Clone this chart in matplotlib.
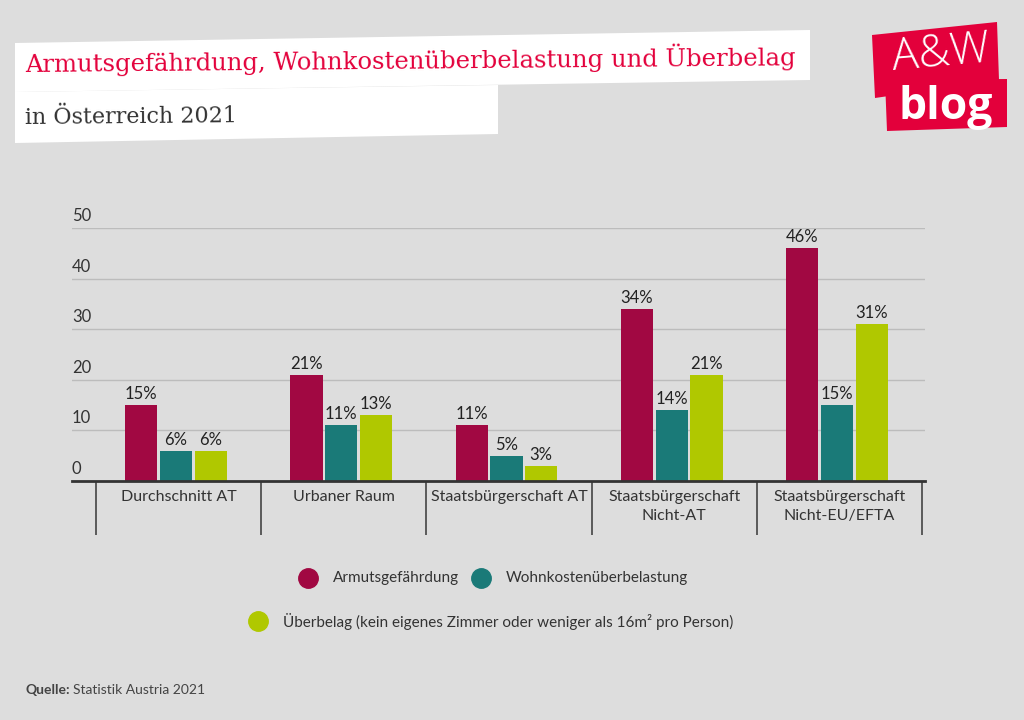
import matplotlib.pyplot as plt
import matplotlib.patches as mpatches
from matplotlib.lines import Line2D
import numpy as np

# ============================================
# DATEN
# ============================================

kategorien = ['Durchschnitt AT', 'Urbaner Raum', 'Staatsbürgerschaft AT',
              'Staatsbürgerschaft\nNicht-AT', 'Staatsbürgerschaft\nNicht-EU/EFTA']
armut = [15, 21, 11, 34, 46]
wohnkosten = [6, 11, 5, 14, 15]
ueberbelag = [6, 13, 3, 21, 31]

serien_namen = ['Armutsgefährdung', 'Wohnkostenüberbelastung',
                'Überbelag (kein eigenes Zimmer oder weniger als 16m² pro Person)']
y_ticks = [0, 10, 20, 30, 40, 50]

# Farben
ROT = '#a10842'
PETROL = '#1a7a78'
GRUEN = '#b0c800'
HINTERGRUND = '#dddddd'
TEXT = '#333333'
TITEL_ROT = '#e3003b'

W, H = 1024, 720

plt.rcParams['font.family'] = ['Lato', 'DejaVu Sans']

fig = plt.figure(figsize=(W / 100, H / 100), dpi=100, facecolor=HINTERGRUND)


def px(x, y):
    # Pixel (oben links) -> Figure-Koordinaten
    return x / W, 1 - y / H


# ============================================
# TITEL (weiße, leicht gedrehte Kästen)
# ============================================

box1 = [(15, 43), (810, 30), (810, 80), (15, 92)]
box2 = [(15, 92), (498, 85), (498, 134), (15, 143)]
for box in (box1, box2):
    fig.add_artist(mpatches.Polygon([px(*p) for p in box], closed=True,
                                    facecolor='white', edgecolor='none',
                                    transform=fig.transFigure))

fig.text(*px(25, 63), 'Armutsgefährdung, Wohnkostenüberbelastung und Überbelag',
         family='DejaVu Serif', fontsize=17.5, color=TITEL_ROT,
         ha='left', va='center', rotation=0.5, rotation_mode='anchor')
fig.text(*px(25, 118), 'in Österreich 2021', family='DejaVu Serif',
         fontsize=16, color=TEXT, ha='left', va='center',
         rotation=0.5, rotation_mode='anchor')

# ============================================
# LOGO
# ============================================

logo1 = [(872, 35), (997, 22), (999, 80), (875, 98)]
logo2 = [(885, 80), (1007, 79), (1007, 127), (887, 131)]
for box in (logo1, logo2):
    fig.add_artist(mpatches.Polygon([px(*p) for p in box], closed=True,
                                    facecolor=TITEL_ROT, edgecolor='none',
                                    transform=fig.transFigure))
fig.text(*px(941, 55), 'A&W', family='Open Sans', fontsize=32, color='white',
         ha='center', va='center', rotation=5, fontweight='light')
fig.text(*px(946, 108), 'blog', family='Open Sans', fontsize=32, color='white',
         ha='center', va='center', fontweight='bold')

# ============================================
# BALKENDIAGRAMM
# ============================================

ax = fig.add_axes([72 / W, 1 - 481 / H, (925 - 72) / W, (481 - 228) / H])
ax.set_facecolor('none')

x = np.arange(len(kategorien))
breite = 0.195
abstand = 0.21

for i, (werte, farbe) in enumerate(zip([armut, wohnkosten, ueberbelag],
                                       [ROT, PETROL, GRUEN])):
    pos = x + (i - 1) * abstand - 0.015
    bars = ax.bar(pos, werte, width=breite, color=farbe, zorder=3)
    for xi, v in zip(pos, werte):
        ax.text(xi, v + 0.6, f'{v}%', ha='center', va='bottom',
                fontsize=12, color='#222222', zorder=4)

ax.set_xlim(-0.645, 4.518)
ax.set_ylim(0, 50)

for t in y_ticks:
    if t > 0:
        ax.axhline(t, color='#bcbcbc', lw=1, zorder=1)
    ax.text(0, t + 0.8, str(t), transform=ax.get_yaxis_transform(),
            ha='left', va='bottom', fontsize=12, color=TEXT)

ax.axhline(0, color='#333333', lw=2, zorder=5, clip_on=False)

# Trennlinien zwischen den Kategorien
trenner = np.arange(len(kategorien) + 1) - 0.5
ax.vlines(trenner, -0.215, 0, transform=ax.get_xaxis_transform(),
          color='#444444', lw=1.2, clip_on=False)

for xi, name in zip(x, kategorien):
    ax.text(xi, -0.035, name, transform=ax.get_xaxis_transform(),
            ha='center', va='top', fontsize=11.5, color=TEXT, linespacing=1.45)

for s in ax.spines.values():
    s.set_visible(False)
ax.set_xticks([])
ax.set_yticks([])

# ============================================
# LEGENDE
# ============================================

legende = [((308, 578), ROT, serien_namen[0]),
           ((481, 578), PETROL, serien_namen[1]),
           ((258, 621), GRUEN, serien_namen[2])]
for (lx, ly), farbe, name in legende:
    fig.add_artist(Line2D([lx / W], [1 - ly / H], marker='o', markersize=14,
                          color=farbe, linestyle='none',
                          transform=fig.transFigure))
    fig.text(*px(lx + 25, ly), name, fontsize=11, color=TEXT,
             ha='left', va='center')

# ============================================
# QUELLE
# ============================================

q = fig.text(*px(25, 690), 'Quelle:', fontsize=10, color='#444444',
             fontweight='bold', ha='left', va='center')
fig.canvas.draw()
bb = q.get_window_extent()
fig.text(bb.x1 / W + 3 / W, 1 - 690 / H, 'Statistik Austria 2021', fontsize=10,
         color='#444444', ha='left', va='center')

plt.savefig('out.png', dpi=100, facecolor=HINTERGRUND)
